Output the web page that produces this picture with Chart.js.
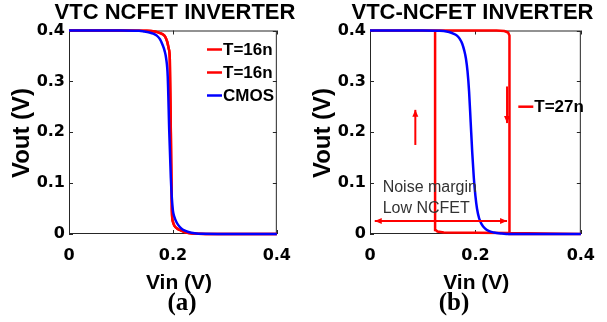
<!DOCTYPE html>
<html>
<head>
<meta charset="utf-8">
<script src="https://cdn.jsdelivr.net/npm/chart.js@4.4.1/dist/chart.umd.min.js"></script>
<style>
  html, body { margin: 0; padding: 0; background: #fff; }
  #wrap { position: relative; width: 607px; height: 322px; }
  canvas { position: absolute; top: 0; }
  #chartA { left: 0; }
  #chartB { left: 303px; }
</style>
</head>
<body>
<div id="wrap">
  <canvas id="chartA" width="303" height="322"></canvas>
  <canvas id="chartB" width="304" height="322"></canvas>
</div>
<script>
// (a) NCFET T=16n curve
const vinA16 = [0, 0.1, 0.15, 0.165, 0.175, 0.181, 0.185, 0.189, 0.192, 0.194, 0.196, 0.198, 0.2, 0.203, 0.208, 0.213, 0.222, 0.237, 0.3, 0.4];
const voutA16 = [0.4, 0.4, 0.3995, 0.398, 0.395, 0.392, 0.388, 0.378, 0.364, 0.345, 0.2, 0.045, 0.024, 0.016, 0.011, 0.008, 0.004, 0.001, 0, 0];
// (a) CMOS curve
const vinACmos = [0, 0.1, 0.135, 0.145, 0.155, 0.162, 0.169, 0.175, 0.18, 0.184, 0.187, 0.19, 0.193, 0.196, 0.198, 0.2, 0.203, 0.206, 0.21, 0.216, 0.222, 0.23, 0.242, 0.256, 0.3, 0.4];
const voutACmos = [0.4, 0.4, 0.3995, 0.398, 0.396, 0.394, 0.39, 0.383, 0.372, 0.36, 0.345, 0.31, 0.2, 0.11, 0.07, 0.046, 0.033, 0.025, 0.018, 0.011, 0.007, 0.004, 0.0015, 0.0003, 0, 0];
// (b) NCFET T=27n hysteresis loop (forward sweep then backward sweep)
const vinB27 = [0, 0.24, 0.255, 0.262, 0.2646, 0.2646, 0.4, 0.4, 0.2646, 0.14, 0.128, 0.1245, 0.1235, 0.1235, 0];
const voutB27 = [0.4, 0.4, 0.399, 0.396, 0.39, 0, 0, 0, 0.002, 0.003, 0.005, 0.008, 0.014, 0.4, 0.4];
// (b) CMOS curve
const vinBCmos = [0, 0.1, 0.13, 0.14, 0.15, 0.158, 0.165, 0.17, 0.175, 0.179, 0.182, 0.185, 0.188, 0.191, 0.194, 0.197, 0.2, 0.203, 0.207, 0.212, 0.218, 0.225, 0.235, 0.25, 0.265, 0.4];
const voutBCmos = [0.4, 0.4, 0.3995, 0.399, 0.397, 0.394, 0.39, 0.384, 0.374, 0.36, 0.345, 0.32, 0.28, 0.22, 0.16, 0.11, 0.075, 0.05, 0.031, 0.019, 0.011, 0.006, 0.003, 0.001, 0, 0];

const xTicks = [0, 0.2, 0.4];
const yTicks = [0, 0.1, 0.2, 0.3, 0.4];

const RED = "#ff0000";
const BLUE = "#0000ff";
const SANS = '"Liberation Sans", Arial, sans-serif';

function pts(xs, ys) {
  return xs.map((v, i) => ({ x: v, y: ys[i] }));
}

function arrowHead(ctx, x, y, ang) {
  ctx.beginPath();
  ctx.moveTo(x, y);
  ctx.lineTo(x - 7 * Math.cos(ang) + 3 * Math.sin(ang), y - 7 * Math.sin(ang) - 3 * Math.cos(ang));
  ctx.lineTo(x - 7 * Math.cos(ang) - 3 * Math.sin(ang), y - 7 * Math.sin(ang) + 3 * Math.cos(ang));
  ctx.closePath();
  ctx.fill();
}

// box, inward ticks, then all the text
const framePlugin = {
  id: "frame",
  beforeDatasetsDraw(chart) {
    const { ctx, chartArea: a, scales: { x, y } } = chart;
    ctx.save();
    ctx.strokeStyle = "#262626";
    ctx.lineWidth = 1;
    ctx.strokeRect(a.left + 0.5, a.top + 0.5, a.right - a.left - 1, a.bottom - a.top - 1);
    ctx.beginPath();
    y.ticks.forEach((t) => {
      const py = Math.round(y.getPixelForValue(t.value)) + 0.5;
      ctx.moveTo(a.left, py); ctx.lineTo(a.left + 4, py);
      ctx.moveTo(a.right, py); ctx.lineTo(a.right - 4, py);
    });
    x.ticks.forEach((t) => {
      const px = Math.round(x.getPixelForValue(t.value)) + 0.5;
      ctx.moveTo(px, a.bottom); ctx.lineTo(px, a.bottom - 4);
      ctx.moveTo(px, a.top); ctx.lineTo(px, a.top + 4);
    });
    ctx.stroke();
    ctx.restore();
  },
  afterDraw(chart, args, o) {
    const { ctx, scales: { x, y } } = chart;
    ctx.save();
    ctx.fillStyle = "#000";
    ctx.textAlign = "center";
    ctx.textBaseline = "middle";
    ctx.font = "bold 22px " + SANS;
    ctx.fillText(o.title, o.titleX, 13);
    ctx.font = "bold 21px " + SANS;
    ctx.fillText("Vin (V)", o.xTitleX, 283);
    ctx.font = 'bold 25px "Liberation Serif", "Times New Roman", serif';
    ctx.fillText(o.panel, o.panelX, 304);
    ctx.save();
    ctx.translate(o.yTitleX, 133);
    ctx.rotate(-Math.PI / 2);
    ctx.font = "bold 24px " + SANS;
    ctx.fillText("Vout (V)", 0, 0);
    ctx.restore();

    // legend
    ctx.textAlign = "left";
    ctx.font = "bold 17px " + SANS;
    o.legend.forEach((e, i) => {
      const ly = o.legendY[i];
      ctx.strokeStyle = e.color;
      ctx.lineWidth = 2.5;
      ctx.beginPath();
      ctx.moveTo(o.legendX, ly); ctx.lineTo(o.legendX + 15, ly);
      ctx.stroke();
      ctx.fillStyle = "#000";
      ctx.fillText(e.text, o.legendX + 16, ly + 1);
    });

    // annotations in data units
    (o.arrows || []).forEach((ar) => {
      const x1 = x.getPixelForValue(ar.x1), y1 = y.getPixelForValue(ar.y1);
      const x2 = x.getPixelForValue(ar.x2), y2 = y.getPixelForValue(ar.y2);
      const ang = Math.atan2(y2 - y1, x2 - x1);
      ctx.strokeStyle = RED; ctx.fillStyle = RED; ctx.lineWidth = 2;
      ctx.beginPath(); ctx.moveTo(x1, y1); ctx.lineTo(x2, y2); ctx.stroke();
      arrowHead(ctx, x2, y2, ang);
      if (ar.both) arrowHead(ctx, x1, y1, ang + Math.PI);
    });
    (o.notes || []).forEach((n) => {
      ctx.fillStyle = "#333";
      ctx.font = "16px " + SANS;
      ctx.textBaseline = "alphabetic";
      ctx.fillText(n.text, x.getPixelForValue(n.x), y.getPixelForValue(n.y));
    });
    ctx.restore();
  },
};

const tickFont = { family: "DejaVu Sans", weight: "bold", size: 16 };

function makeChart(id, datasets, pad, yWidth, text) {
  return new Chart(document.getElementById(id), {
    type: "scatter",
    data: { datasets },
    options: {
      responsive: false,
      devicePixelRatio: 1,
      animation: false,
      layout: { padding: { left: 0, top: 30.5, right: pad, bottom: 0 } },
      plugins: { legend: { display: false }, tooltip: { enabled: false }, frame: text },
      scales: {
        x: {
          type: "linear", min: 0, max: 0.4,
          afterFit: (s) => { s.height = 88; },
          afterBuildTicks: (s) => { s.ticks = xTicks.map((v) => ({ value: v })); },
          grid: { display: false, drawTicks: false },
          border: { display: false },
          ticks: { padding: 12, color: "#000", font: tickFont },
        },
        y: {
          type: "linear", min: 0, max: 0.4,
          afterFit: (s) => { s.width = yWidth; },
          afterBuildTicks: (s) => { s.ticks = yTicks.map((v) => ({ value: v })); },
          grid: { display: false, drawTicks: false },
          border: { display: false },
          ticks: { padding: 4, color: "#000", font: tickFont },
        },
      },
    },
    plugins: [framePlugin],
  });
}

const lineStyle = { showLine: true, pointRadius: 0, borderWidth: 2.5, clip: false, fill: false };

makeChart("chartA", [
  { ...lineStyle, label: "CMOS", data: pts(vinACmos, voutACmos), borderColor: BLUE, cubicInterpolationMode: "monotone", order: 0 },
  { ...lineStyle, label: "T=16n", data: pts(vinA16, voutA16), borderColor: RED, cubicInterpolationMode: "monotone", order: 1 },
  { ...lineStyle, label: "T=16n", data: pts(vinA16, voutA16), borderColor: RED, cubicInterpolationMode: "monotone", order: 2 },
], 19, 69, {
  title: "VTC NCFET INVERTER", titleX: 175, xTitleX: 179, yTitleX: 22.5, panel: "(a)", panelX: 182,
  legendX: 207, legendY: [49.5, 72.5, 95.5],
  legend: [{ text: "T=16n", color: RED }, { text: "T=16n", color: RED }, { text: "CMOS", color: BLUE }],
});

makeChart("chartB", [
  { ...lineStyle, label: "CMOS", data: pts(vinBCmos, voutBCmos), borderColor: BLUE, cubicInterpolationMode: "monotone", order: 0 },
  { ...lineStyle, label: "T=27n", data: pts(vinB27, voutB27), borderColor: RED, tension: 0, order: 1 },
], 24, 67, {
  title: "VTC-NCFET INVERTER", titleX: 169.5, xTitleX: 173.3, yTitleX: 20.5, panel: "(b)", panelX: 151,
  legendX: 215.3, legendY: [106.7],
  legend: [{ text: "T=27n", color: RED }],
  arrows: [
    { x1: 0.086, y1: 0.175, x2: 0.086, y2: 0.244 },
    { x1: 0.26, y1: 0.29, x2: 0.26, y2: 0.218 },
    { x1: 0.009, y1: 0.0256, x2: 0.26, y2: 0.0256, both: true },
  ],
  notes: [
    { text: "Noise margin", x: 0.024, y: 0.083 },
    { text: "Low NCFET", x: 0.024, y: 0.0407 },
  ],
});
</script>
</body>
</html>
